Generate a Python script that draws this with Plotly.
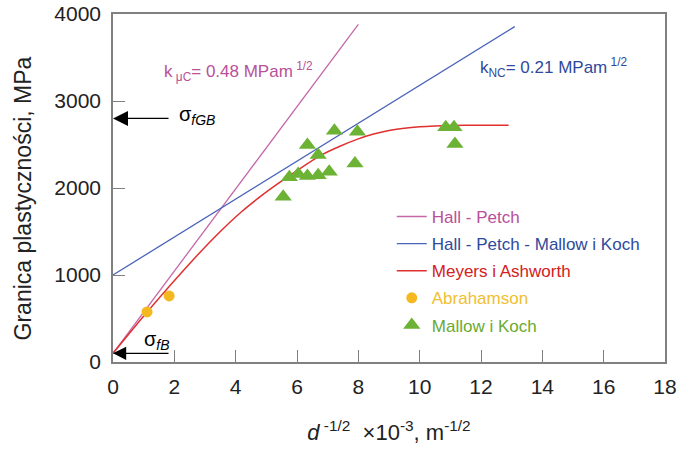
import plotly.graph_objects as go

# ---- data ----
hp_x = [0, 8.0]
hp_y = [100, 3880]

hpmk_x = [0, 13.1]
hpmk_y = [1000, 3855]

ma_x = [0, 1.1, 2.6, 3.5, 4.2, 4.8, 5.4, 6.0, 6.8, 7.4, 8.0, 8.5, 9.0, 9.5, 10.0, 10.5, 11.0, 12.0, 12.9]
ma_y = [100, 570, 1170, 1500, 1730, 1900, 2055, 2200, 2380, 2480, 2565, 2620, 2660, 2688, 2705, 2714, 2719, 2720, 2720]

abr_x = [1.11, 1.83]
abr_y = [575, 759]

mk_x = [5.55, 5.75, 6.04, 6.34, 6.69, 7.05, 6.34, 6.69, 7.22, 7.97, 7.89, 10.85, 11.12, 11.15]
mk_y = [1900, 2123, 2161, 2138, 2146, 2187, 2494, 2379, 2659, 2647, 2283, 2698, 2698, 2506]

x_ticks = [0, 2, 4, 6, 8, 10, 12, 14, 16, 18]
y_ticks = [0, 1000, 2000, 3000, 4000]

sigma_fGB = 2800
sigma_fB = 100

C_HP = "#c468a8"
C_HPMK = "#4a64b8"
C_MA = "#e03030"
C_ABR = "#f6b820"
C_MK = "#6cb234"

T_HP = "#b8509a"
T_HPMK = "#2f4a9c"
T_MA = "#d42020"
T_ABR = "#f0c030"
T_MK = "#6aaa30"

FONT = "Liberation Sans, Arial, sans-serif"

fig = go.Figure()
fig.add_trace(go.Scatter(x=hp_x, y=hp_y, mode="lines", line=dict(color=C_HP, width=1.3),
                         name=f"<span style='color:{T_HP}'>Hall - Petch</span>", legendgroup="a"))
fig.add_trace(go.Scatter(x=hpmk_x, y=hpmk_y, mode="lines", line=dict(color=C_HPMK, width=1.3),
                         name=f"<span style='color:{T_HPMK}'>Hall - Petch - Mallow i Koch</span>", legendgroup="b"))
fig.add_trace(go.Scatter(x=ma_x, y=ma_y, mode="lines", line=dict(color=C_MA, width=1.5, shape="spline", smoothing=0.8),
                         name=f"<span style='color:{T_MA}'>Meyers i Ashworth</span>", legendgroup="c"))
fig.add_trace(go.Scatter(x=abr_x, y=abr_y, mode="markers", marker=dict(color=C_ABR, size=11, symbol="circle"),
                         name=f"<span style='color:{T_ABR}'>Abrahamson</span>", legendgroup="d"))
fig.add_trace(go.Scatter(x=mk_x, y=mk_y, mode="markers", marker=dict(color=C_MK, size=15, symbol="triangle-up"),
                         name=f"<span style='color:{T_MK}'>Mallow i Koch</span>", legendgroup="e"))

annotations = [
    dict(x=0, y=sigma_fGB, ax=1.86, ay=sigma_fGB, xref="x", yref="y", axref="x", ayref="y",
         showarrow=True, arrowhead=2, arrowsize=2.5, arrowwidth=1.2, arrowcolor="black", text=""),
    dict(x=0, y=sigma_fB, ax=1.86, ay=sigma_fB, xref="x", yref="y", axref="x", ayref="y",
         showarrow=True, arrowhead=2, arrowsize=2.2, arrowwidth=1.2, arrowcolor="black", text=""),
    dict(x=2.1, y=sigma_fGB + 30, xref="x", yref="y", text="σ<sub><i>fGB</i></sub>", showarrow=False,
         xanchor="left", font=dict(size=20, color="black", family=FONT)),
    dict(x=0.95, y=250, xref="x", yref="y", text="σ<sub><i>fB</i></sub>", showarrow=False,
         xanchor="left", font=dict(size=20, color="black", family=FONT)),
    dict(x=1.6, y=3340, xref="x", yref="y", text="k<sub> μC</sub>= 0.48 MPam<sup> 1/2</sup>", showarrow=False,
         xanchor="left", font=dict(size=17, color=T_HP, family=FONT)),
    dict(x=11.9, y=3380, xref="x", yref="y", text="k<sub>NC</sub>= 0.21 MPam<sup> 1/2</sup>", showarrow=False,
         xanchor="left", font=dict(size=17, color=T_HPMK, family=FONT)),
    # y-axis title
    dict(x=-0.163, y=0.47, xref="paper", yref="paper", text="Granica plastyczności, MPa", showarrow=False,
         textangle=-90, xanchor="center", yanchor="middle", font=dict(size=23, color="#222", family=FONT)),
]

fig.update_layout(
    width=677, height=450,
    margin=dict(l=113, r=12, t=14, b=88, autoexpand=False),
    paper_bgcolor="white", plot_bgcolor="white",
    font=dict(family=FONT, size=20, color="#222"),
    annotations=annotations,
    legend=dict(x=0.505, y=0.4685, xanchor="left", yanchor="top", bgcolor="rgba(0,0,0,0)",
                font=dict(size=17, family=FONT), tracegroupgap=2, traceorder="grouped"),
    showlegend=True,
)
fig.update_xaxes(range=[0, 18], tickvals=x_ticks, ticks="inside", ticklen=12, tickcolor="#808080",
                 showline=True, linecolor="#808080", linewidth=1.5, mirror=True, showgrid=False, zeroline=False,
                 tickfont=dict(size=21, color="#222"), automargin=False, ticklabelstandoff=5,
                 ticklabeloverflow="allow",
                 title=dict(text="<i>d</i><sup> -1/2</sup>&nbsp; ×10<sup>-3</sup>, m<sup>-1/2</sup>",
                            font=dict(size=22, color="#222"), standoff=28))
fig.update_yaxes(range=[0, 4000], tickvals=y_ticks, ticks="inside", ticklen=12, tickcolor="#808080",
                 showline=True, linecolor="#808080", linewidth=1.5, mirror=True, showgrid=False, zeroline=False,
                 tickfont=dict(size=21, color="#222"), ticklabelstandoff=6, automargin=False,
                 ticklabeloverflow="allow")

# remove the default 8px page margin so the figure sits at the window's top-left corner
fig.write_html("out.html", config={"displayModeBar": False},
               post_script="document.body.style.margin='0';")
